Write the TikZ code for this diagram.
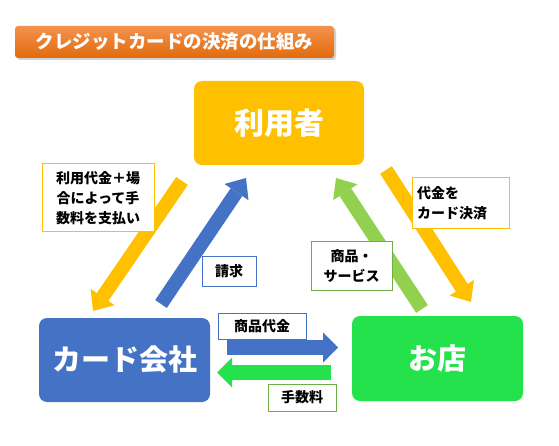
\documentclass[tikz,border=0pt]{standalone}
\usepackage{fontspec}
\newfontfamily\jp{Noto Sans CJK JP}
\usetikzlibrary{arrows.meta}
\usetikzlibrary{shadows}
\definecolor{yellow}{RGB}{255,192,0}
\definecolor{blue}{RGB}{68,114,196}
\definecolor{green}{RGB}{35,226,76}
\definecolor{lightgreen}{RGB}{146,208,80}
\definecolor{framegreen}{RGB}{112,173,71}
\definecolor{orangetop}{RGB}{244,146,78}
\definecolor{orangebottom}{RGB}{226,107,12}

\begin{document}
\begin{tikzpicture}[x=1pt, y=-1pt,
    box/.style={rounded corners=8pt, minimum width=170pt, minimum height=84pt, text=white, font=\jp\bfseries\fontsize{29}{34}\selectfont},
    lbl/.style={draw, line width=1pt, fill=white, inner sep=0pt, align=center, font=\jp\bfseries\fontsize{14}{20}\selectfont},
    fat/.style={line width=14pt, -{Triangle[length=17pt, width=29pt, line width=0pt]}},
    flat/.style={line width=15pt, -{Triangle[length=15pt, width=30pt, line width=0pt]}}]
    \useasboundingbox (0,0) rectangle (559,446);
    % title
    \node[rounded corners=3pt, minimum width=319pt, minimum height=32pt, top color=orangetop, bottom color=orangebottom, drop shadow={shadow xshift=2pt, shadow yshift=-2pt, fill=black!35}, text=white, font=\jp\bfseries\fontsize{18.5}{20}\selectfont] (title) at (174.5,42) {クレジットカードの決済の仕組み};
    % three parties
    \node[box, fill=yellow, font=\jp\bfseries\fontsize{30}{34}\selectfont] (user) at (279,123) {利用者};
    \node[box, fill=blue, minimum width=171pt] (card) at (124.5,360) {カード会社};
    \node[box, fill=green, minimum width=171pt, minimum height=85pt] (shop) at (437.5,358.5) {お店};
    % arrow ends
    \coordinate (payfrom) at (182,181);
    \coordinate (payto) at (93,311);
    \coordinate (billfrom) at (161,304);
    \coordinate (billto) at (246,178);
    \coordinate (settlefrom) at (386,170);
    \coordinate (settleto) at (471,302);
    \coordinate (goodsfrom) at (422,309);
    \coordinate (goodsto) at (336,178);
    \coordinate (salesfrom) at (227,347.5);
    \coordinate (salesto) at (338,347.5);
    \coordinate (commfrom) at (331,372.5);
    \coordinate (commto) at (217,372.5);
    \draw[fat, yellow] (payfrom) -- (payto);
    \draw[fat, blue] (billfrom) -- (billto);
    \draw[fat, yellow] (settlefrom) -- (settleto);
    \draw[fat, lightgreen] (goodsfrom) -- (goodsto);
    \draw[flat, blue] (salesfrom) -- (salesto);
    \draw[flat, green] (commfrom) -- (commto);
    % labels
    \node[lbl, draw=yellow, minimum width=112pt, minimum height=68pt] (fee) at (98,198) {利用代金＋場\\合によって手\\数料を支払い};
    \node[lbl, draw=blue, minimum width=54pt, minimum height=30pt] (bill) at (229,271) {請求};
    \node[lbl, draw=yellow, minimum width=97pt, minimum height=51pt, align=left, text width=87pt] (settle) at (460.5,203.5) {代金を\\カード決済};
    \node[lbl, draw=framegreen, minimum width=81pt, minimum height=48pt] (goods) at (351.5,266) {商品・\\サービス};
    \node[lbl, draw=blue, minimum width=88pt, minimum height=26pt] (sales) at (262,326) {商品代金};
    \node[lbl, draw=framegreen, minimum width=68pt, minimum height=27pt] (comm) at (302,397.5) {手数料};
\end{tikzpicture}
\end{document}
